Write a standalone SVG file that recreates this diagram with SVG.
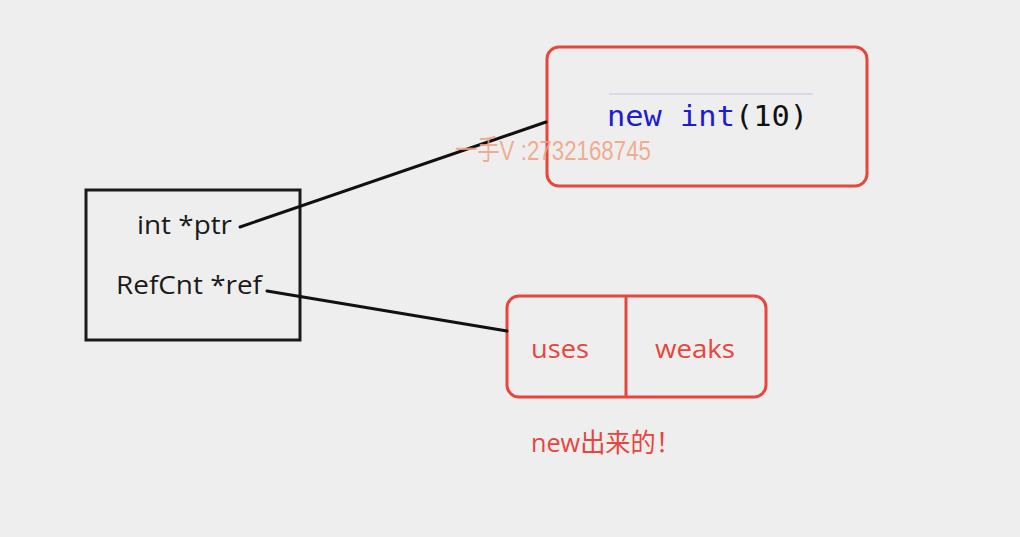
<svg xmlns="http://www.w3.org/2000/svg" width="1020" height="537" viewBox="0 0 1020 537">
<style>
.lbl{font-family:"Open Sans","Noto Sans",sans-serif;font-size:26px;fill:#1a1a1a}
.red{font-family:"Open Sans","Noto Sans","Noto Sans CJK SC",sans-serif;font-size:26px;fill:#e8453c}
.rbox{fill:none;stroke:#e8453c;stroke-width:3}
.conn{stroke:#111;stroke-width:3;fill:none;stroke-linecap:round}
</style>
<rect width="1020" height="537" fill="#eeeeee"/>
<g id="struct">
<rect x="86" y="190" width="214" height="150" fill="none" stroke="#1a1a1a" stroke-width="3"/>
<text class="lbl" x="137" y="234" textLength="95" lengthAdjust="spacingAndGlyphs">int *ptr</text>
<text class="lbl" x="116" y="294" textLength="146" lengthAdjust="spacingAndGlyphs">RefCnt *ref</text>
</g>
<g id="heap-int">
<rect class="rbox" x="547" y="47" width="320" height="139" rx="12"/>
<line x1="609" y1="94" x2="813" y2="94" stroke="#d0d4e0" stroke-width="1.5"/>
<text x="607" y="126" font-family="'DejaVu Sans Mono','Liberation Mono',monospace" font-size="29" textLength="201" lengthAdjust="spacingAndGlyphs"><tspan fill="#1c1cd0">new int</tspan><tspan fill="#111">(10)</tspan></text>
</g>
<g id="refcnt">
<rect class="rbox" x="507" y="296" width="259" height="101" rx="12"/>
<line x1="626" y1="296" x2="626" y2="397" stroke="#e8453c" stroke-width="3"/>
<text class="red" x="531" y="358" textLength="58" lengthAdjust="spacingAndGlyphs">uses</text>
<text class="red" x="655" y="358" textLength="80" lengthAdjust="spacingAndGlyphs">weaks</text>
</g>
<g id="note">
<text class="red" x="531" y="452" textLength="150" lengthAdjust="spacingAndGlyphs">new出来的！</text>
</g>
<g id="connectors">
<line class="conn" x1="240" y1="227" x2="546" y2="122"/>
<line class="conn" x1="267" y1="291" x2="507" y2="331"/>
</g>
<text x="455" y="160" font-family="'Liberation Sans','Noto Sans CJK SC',sans-serif" font-size="28" fill="#f0a080" fill-opacity="0.85" textLength="196" lengthAdjust="spacingAndGlyphs">一手V :2732168745</text>
</svg>
